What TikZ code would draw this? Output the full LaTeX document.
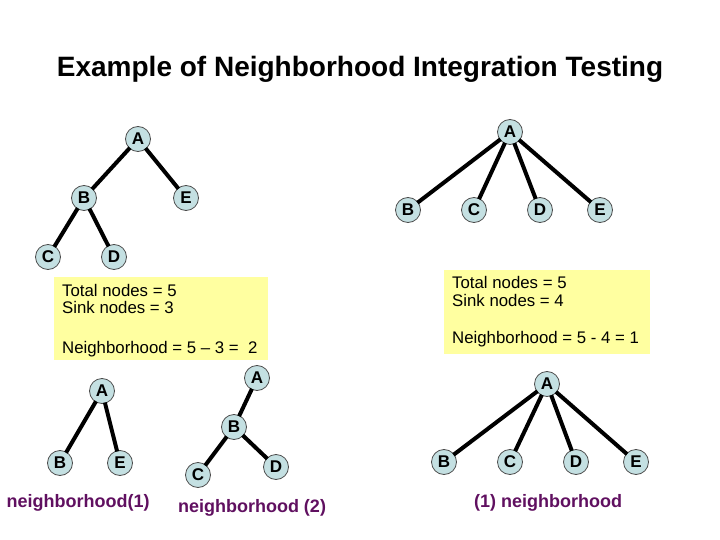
\documentclass[tikz,border=0pt]{standalone}
\usepackage{fontspec}
\setmainfont{Liberation Sans}
\definecolor{nodefill}{RGB}{196,224,226}
\definecolor{boxfill}{RGB}{255,255,160}
\definecolor{captionpurple}{RGB}{96,16,96}
\begin{document}
\begin{tikzpicture}[x=1pt,y=-1pt,
  tnode/.style={circle,draw=black!70,line width=0.8pt,fill=nodefill,minimum size=25pt,inner sep=0pt,
    font=\fontsize{17}{17}\selectfont\bfseries},
  edge/.style={line width=4pt,black,shorten <=-1pt,shorten >=-1pt},
  boxtext/.style={anchor=base west,inner sep=0pt,font=\fontsize{16.8}{16.8}\selectfont},
  caption/.style={anchor=base,inner sep=0pt,text=captionpurple,font=\fontsize{18}{18}\selectfont\bfseries},
  yellowbox/.style={fill=boxfill,draw=none}]
\useasboundingbox (0,0) rectangle (720,540);
% title
\node[anchor=base,inner sep=0pt,font=\fontsize{28}{28}\selectfont\bfseries] (title) at (360,77) {Example of Neighborhood Integration Testing};
% yellow boxes
\fill[yellowbox] (54,277) rectangle (268,360);
\fill[yellowbox] (444,270) rectangle (650,354);
\node[boxtext] (l1) at (62,296) {Total nodes = 5};
\node[boxtext] (l2) at (62,313) {Sink nodes = 3};
\node[boxtext] (l3) at (62,353) {Neighborhood = 5 – 3 = \ 2};
\node[boxtext] (r1) at (452,288) {Total nodes = 5};
\node[boxtext] (r2) at (452,306) {Sink nodes = 4};
\node[boxtext] (r3) at (452,343) {Neighborhood = 5 - 4 = 1};
% top-left tree
\node[tnode] (a1) at (138,139) {A};
\node[tnode] (b1) at (84,198) {B};
\node[tnode] (e1) at (186,198) {E};
\node[tnode] (c1) at (48,257) {C};
\node[tnode] (d1) at (114,257) {D};
\draw[edge] (a1) -- (b1);
\draw[edge] (a1) -- (e1);
\draw[edge] (b1) -- (c1);
\draw[edge] (b1) -- (d1);
% top-right tree
\node[tnode] (a2) at (510,132) {A};
\node[tnode] (b2) at (408,210) {B};
\node[tnode] (c2) at (474,210) {C};
\node[tnode] (d2) at (540,210) {D};
\node[tnode] (e2) at (600,210) {E};
\draw[edge] (a2) -- (b2);
\draw[edge] (a2) -- (c2);
\draw[edge] (a2) -- (d2);
\draw[edge] (a2) -- (e2);
% bottom-left
\node[tnode] (a3) at (102,391) {A};
\node[tnode] (b3) at (60,463) {B};
\node[tnode] (e3) at (120,463) {E};
\draw[edge] (a3) -- (b3);
\draw[edge] (a3) -- (e3);
\node[caption] (cap1) at (78,507) {neighborhood(1)};
% bottom-middle
\node[tnode] (a4) at (257,378) {A};
\node[tnode] (b4) at (234,427) {B};
\node[tnode] (c4) at (198,475) {C};
\node[tnode] (d4) at (276,467) {D};
\draw[edge] (a4) -- (b4);
\draw[edge] (b4) -- (c4);
\draw[edge] (b4) -- (d4);
\node[caption] (cap2) at (252,512) {neighborhood (2)};
% bottom-right
\node[tnode] (a5) at (547,384) {A};
\node[tnode] (b5) at (444,462) {B};
\node[tnode] (c5) at (510,462) {C};
\node[tnode] (d5) at (576,462) {D};
\node[tnode] (e5) at (636,462) {E};
\draw[edge] (a5) -- (b5);
\draw[edge] (a5) -- (c5);
\draw[edge] (a5) -- (d5);
\draw[edge] (a5) -- (e5);
\node[caption] (cap3) at (548,507) {(1) neighborhood};
\end{tikzpicture}
\end{document}
